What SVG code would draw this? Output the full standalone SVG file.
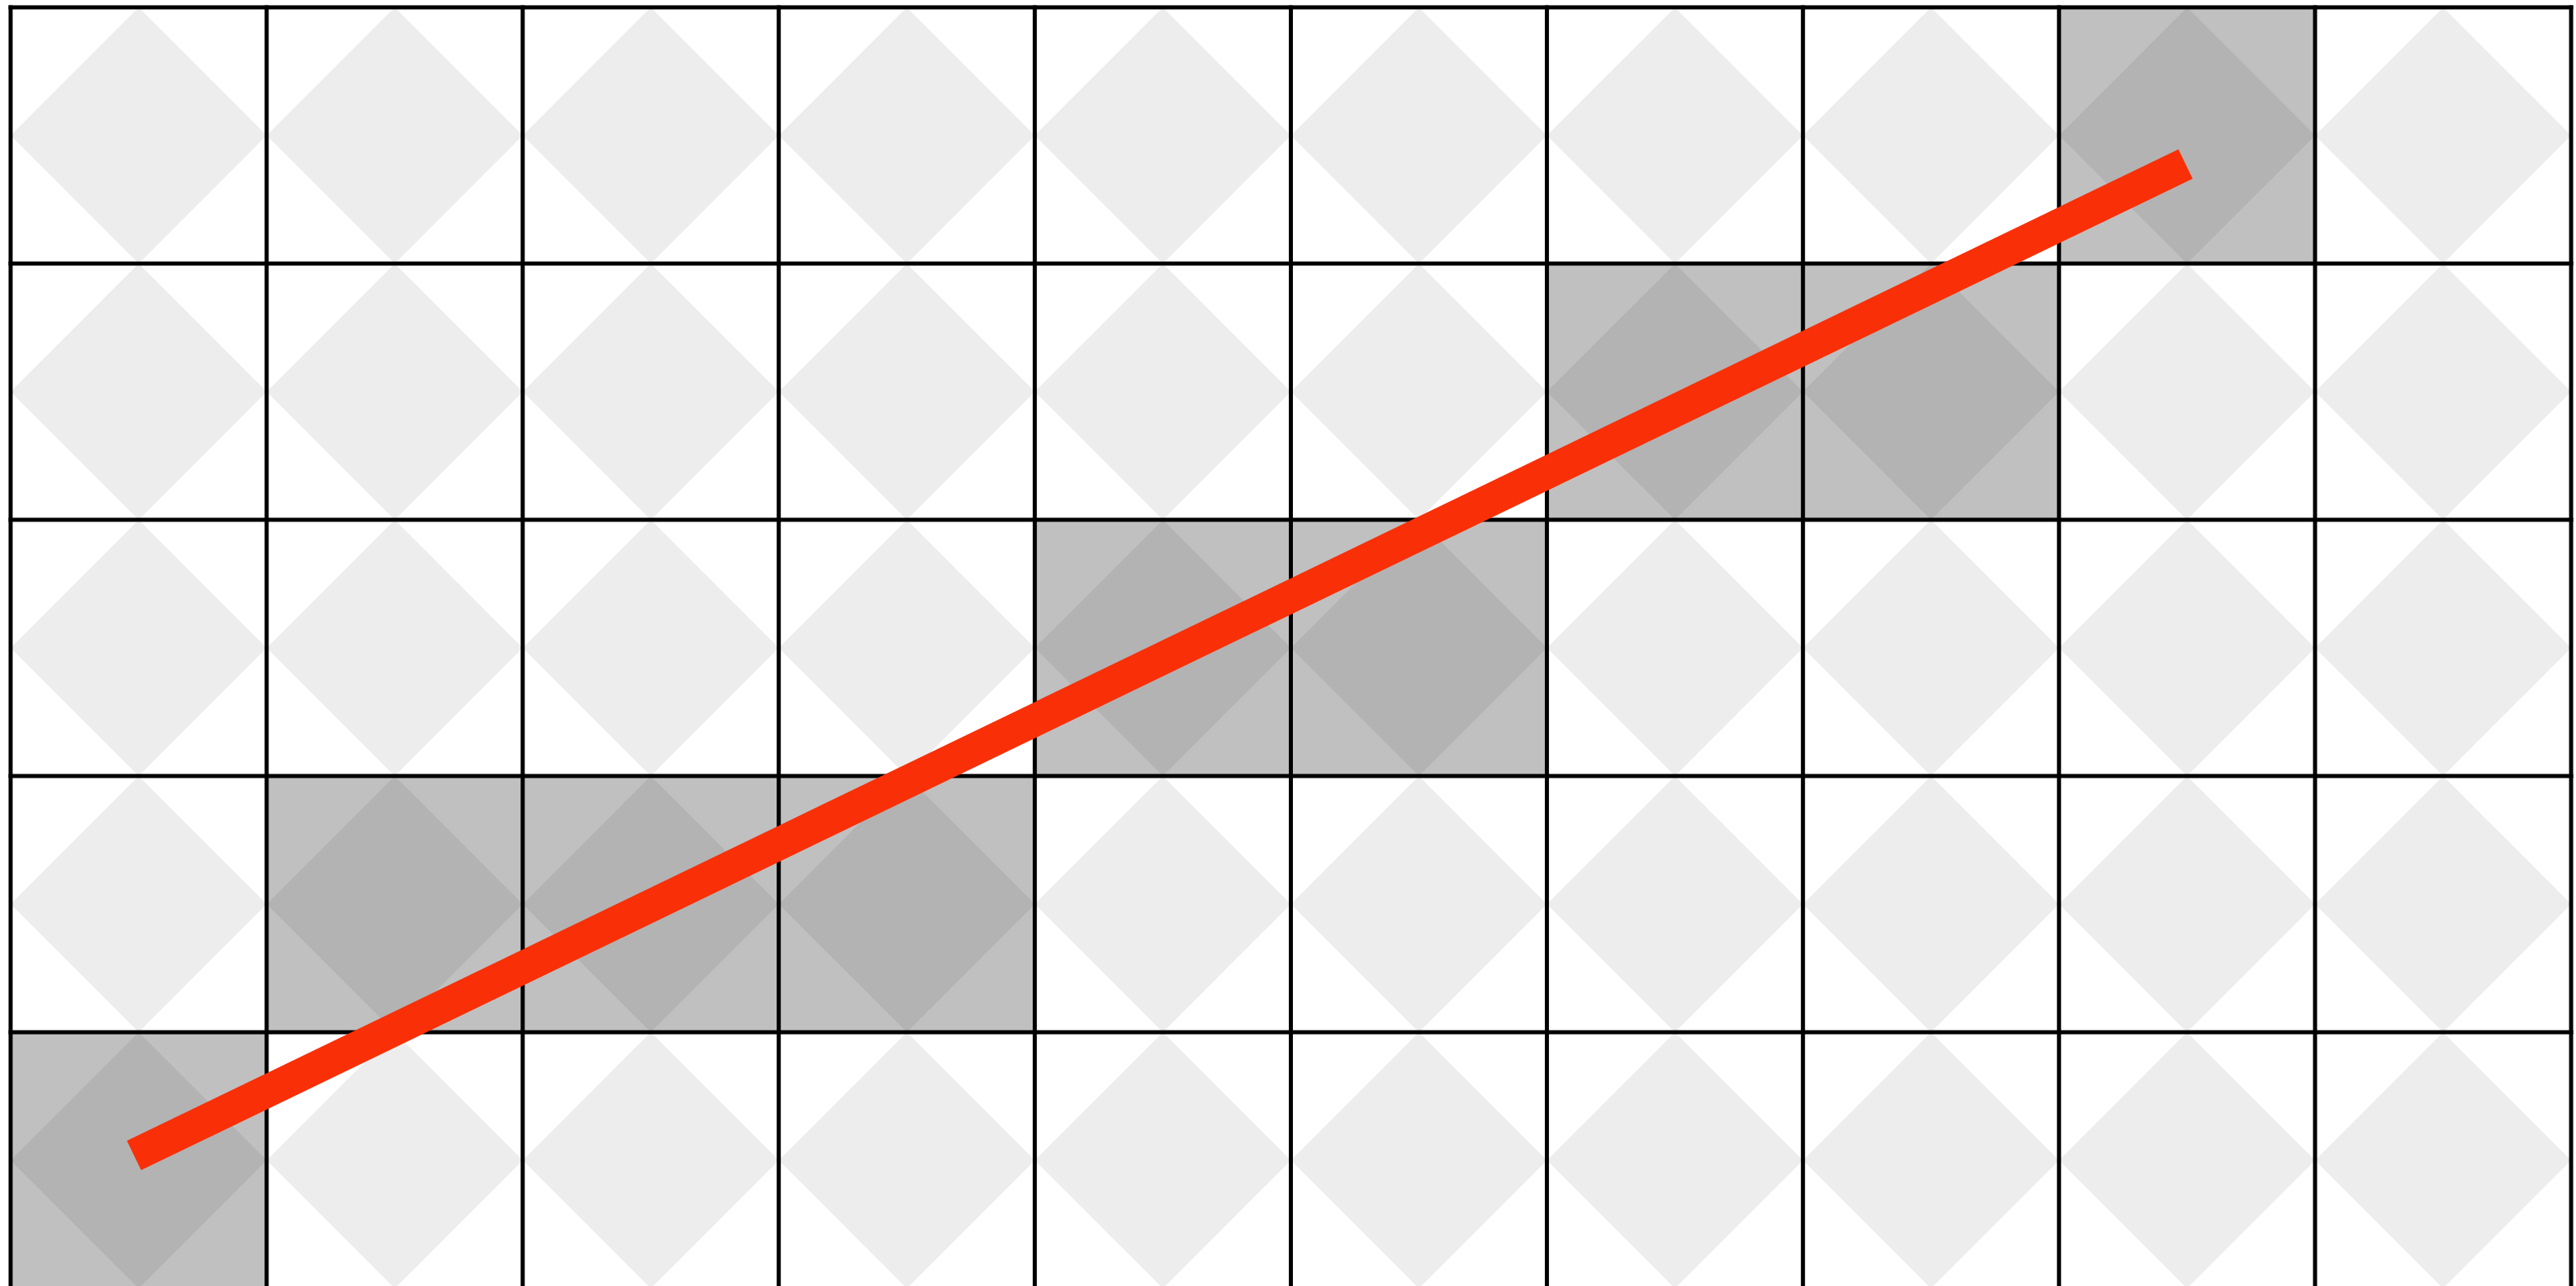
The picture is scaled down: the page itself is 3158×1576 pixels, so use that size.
<svg xmlns="http://www.w3.org/2000/svg" xmlns:xlink="http://www.w3.org/1999/xlink" width="3158" height="1576" viewBox="0 0 3158 1576">
<style>
.bg{fill:#ffffff}
.hi{fill:#c0c0c0}
.dl{fill:#ededed}
.dh{fill:#b3b3b3}
.grid{stroke:#000000;stroke-width:5;stroke-linecap:square;fill:none}
.path{stroke:#f92f07;stroke-width:40;stroke-linecap:butt;fill:none}
</style>
<defs>
<polygon id="dia" points="157,0 314,157 157,314 0,157"/>
<g id="light"><use xlink:href="#dia" href="#dia" class="dl"/></g>
<g id="high"><rect x="0" y="0" width="314" height="314" class="hi"/><use xlink:href="#dia" href="#dia" class="dh"/></g>
</defs>
<rect class="bg" x="0" y="0" width="3158" height="1576"/>
<g id="cells">
<g id="row0">
<use href="#light" x="13" y="9"/><use href="#light" x="326.9" y="9"/><use href="#light" x="640.8" y="9"/><use href="#light" x="954.7" y="9"/><use href="#light" x="1268.6" y="9"/><use href="#light" x="1582.5" y="9"/><use href="#light" x="1896.4" y="9"/><use href="#light" x="2210.3" y="9"/><use href="#high" x="2524.2" y="9"/><use href="#light" x="2838.1" y="9"/>
</g>
<g id="row1">
<use href="#light" x="13" y="323"/><use href="#light" x="326.9" y="323"/><use href="#light" x="640.8" y="323"/><use href="#light" x="954.7" y="323"/><use href="#light" x="1268.6" y="323"/><use href="#light" x="1582.5" y="323"/><use href="#high" x="1896.4" y="323"/><use href="#high" x="2210.3" y="323"/><use href="#light" x="2524.2" y="323"/><use href="#light" x="2838.1" y="323"/>
</g>
<g id="row2">
<use href="#light" x="13" y="637"/><use href="#light" x="326.9" y="637"/><use href="#light" x="640.8" y="637"/><use href="#light" x="954.7" y="637"/><use href="#high" x="1268.6" y="637"/><use href="#high" x="1582.5" y="637"/><use href="#light" x="1896.4" y="637"/><use href="#light" x="2210.3" y="637"/><use href="#light" x="2524.2" y="637"/><use href="#light" x="2838.1" y="637"/>
</g>
<g id="row3">
<use href="#light" x="13" y="951"/><use href="#high" x="326.9" y="951"/><use href="#high" x="640.8" y="951"/><use href="#high" x="954.7" y="951"/><use href="#light" x="1268.6" y="951"/><use href="#light" x="1582.5" y="951"/><use href="#light" x="1896.4" y="951"/><use href="#light" x="2210.3" y="951"/><use href="#light" x="2524.2" y="951"/><use href="#light" x="2838.1" y="951"/>
</g>
<g id="row4">
<use href="#high" x="13" y="1265"/><use href="#light" x="326.9" y="1265"/><use href="#light" x="640.8" y="1265"/><use href="#light" x="954.7" y="1265"/><use href="#light" x="1268.6" y="1265"/><use href="#light" x="1582.5" y="1265"/><use href="#light" x="1896.4" y="1265"/><use href="#light" x="2210.3" y="1265"/><use href="#light" x="2524.2" y="1265"/><use href="#light" x="2838.1" y="1265"/>
</g>
</g>
<g id="grid" class="grid">
<path d="M13,9V1600M326.9,9V1600M640.8,9V1600M954.7,9V1600M1268.6,9V1600M1582.5,9V1600M1896.4,9V1600M2210.3,9V1600M2524.2,9V1600M2838.1,9V1600M3152,9V1600"/>
<path d="M13,9H3152M13,323H3152M13,637H3152M13,951H3152M13,1265H3152"/>
</g>
<g id="connectors">
<line class="path" x1="164.3" y1="1416" x2="2679.3" y2="201"/>
</g>
</svg>
